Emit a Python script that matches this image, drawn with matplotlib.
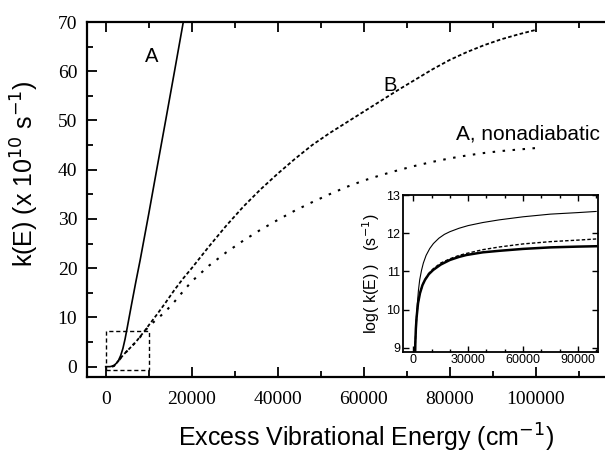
import matplotlib
matplotlib.use("Agg")
import matplotlib.pyplot as plt
from matplotlib.ticker import MultipleLocator
from matplotlib.patches import Rectangle

# ---- main panel data (k in units of 1e10 s^-1) ----
A_E = [0, 1000, 1500, 2000, 2500, 3000, 3500, 4000, 4500, 5000, 6000, 7000, 8000, 9000,
       10000, 12000, 14000, 16000, 18000, 19000]
A_k = [0, 0, 0.1, 0.3, 0.7, 1.3, 2.3, 3.7, 5.6, 7.9, 12.6, 17.2, 21.6, 26.3,
       31.0, 40.7, 50.3, 60.0, 69.8, 74.5]

B_E = [1500, 2000, 3000, 4000, 5000, 6000, 7000, 8000, 9000, 10000, 12000, 14000,
       16000, 18000, 20000, 24000, 28000, 32000, 36000, 40000, 44000, 48000,
       52000, 56000, 60000, 64000, 68000, 72000, 76000, 80000, 84000, 88000,
       92000, 96000, 100000]
B_k = [0, 0.2, 1.2, 2.3, 3.2, 4.1, 5.0, 6.1, 7.2, 8.4, 10.7, 13.1,
       15.6, 17.9, 20.0, 24.4, 28.6, 32.5, 36.0, 39.2, 42.2, 45.0,
       47.4, 49.6, 51.8, 54.0, 56.2, 58.3, 60.4, 62.3, 63.9, 65.3,
       66.5, 67.5, 68.4]

N_E = [1500, 2000, 3000, 4000, 5000, 6000, 7000, 8000, 9000, 10000, 12000, 14000,
       16000, 18000, 20000, 24000, 28000, 32000, 36000, 40000, 44000, 48000,
       52000, 56000, 60000, 64000, 68000, 72000, 76000, 80000, 84000, 88000,
       92000, 96000, 100000]
N_k = [0, 0.2, 1.2, 2.3, 3.2, 4.1, 5.0, 6.0, 7.1, 8.2, 9.7, 11.3,
       13.2, 15.3, 17.3, 20.5, 23.2, 25.6, 27.8, 29.8, 31.7, 33.4,
       35.0, 36.5, 37.8, 38.9, 39.9, 40.8, 41.6, 42.3, 42.9, 43.4,
       43.8, 44.1, 44.4]

# ---- inset data: log10(k / s^-1) ----
iA_E = [800, 1000, 1300, 1700, 2200, 2800, 3500, 4500, 5500, 7000, 9000, 11000,
        14000, 17000, 20000, 25000, 30000, 38000, 47000, 60000, 75000, 90000, 100000]
iA_y = [8.5, 9.0, 9.45, 9.8, 10.15, 10.5, 10.78, 11.03, 11.22, 11.42, 11.6, 11.73,
        11.87, 11.97, 12.04, 12.13, 12.2, 12.28, 12.35, 12.43, 12.5, 12.54, 12.57]

iN_E = [900, 1100, 1400, 1850, 2600, 3650, 5000, 6400, 8500, 10900, 15000, 20000,
        25000, 29000, 38000, 47000, 60000, 75000, 90000, 100000]
iN_y = [8.5, 9.1, 9.5, 9.82, 10.17, 10.43, 10.64, 10.78, 10.93, 11.04, 11.18, 11.30,
        11.38, 11.43, 11.50, 11.54, 11.59, 11.63, 11.65, 11.66]

iB_E = [900, 1100, 1400, 1850, 2600, 3650, 5000, 6400, 8500, 10900, 15000, 20000,
        25000, 29000, 38000, 47000, 60000, 75000, 90000, 100000]
iB_y = [8.5, 9.1, 9.5, 9.82, 10.17, 10.43, 10.64, 10.79, 10.95, 11.07, 11.22, 11.33,
        11.42, 11.47, 11.57, 11.64, 11.72, 11.78, 11.82, 11.85]

serif = "Liberation Serif"
sans = "Liberation Sans"

fig = plt.figure(figsize=(6.05, 4.53), dpi=100)
ax = fig.add_axes([0.1438, 0.1678, 0.8562, 0.7836])

ax.plot(A_E, A_k, color="black", lw=1.2)
ax.plot(B_E, B_k, color="black", lw=1.3, linestyle=(0, (2.0, 1.3)))
ax.plot(N_E, N_k, color="black", lw=1.5, linestyle=(0, (1.2, 3.6)))
ax.add_patch(Rectangle((0, -0.7), 10000, 7.9, fill=False, edgecolor="black",
                       lw=1.0, linestyle=(0, (3, 2))))

ax.set_xlim(-4350, 116100)
ax.set_ylim(-2.1, 70)
ax.xaxis.set_major_locator(MultipleLocator(20000))
ax.xaxis.set_minor_locator(MultipleLocator(10000))
ax.yaxis.set_major_locator(MultipleLocator(10))
ax.yaxis.set_minor_locator(MultipleLocator(5))
ax.tick_params(which="both", direction="in", top=True, right=False, width=1.3)
ax.tick_params(which="major", length=7)
ax.tick_params(which="minor", length=4)
ax.tick_params(axis="both", labelsize=14)
ax.tick_params(axis="x", pad=10)
ax.tick_params(axis="y", pad=7)
for lab in ax.get_xticklabels() + ax.get_yticklabels():
    lab.set_family(serif)
for s in ["left", "bottom", "top"]:
    ax.spines[s].set_linewidth(1.6)
ax.spines["right"].set_visible(False)

ax.set_xlabel("Excess Vibrational Energy (cm$^{-1}$)", family=sans, fontsize=18,
              va="baseline")
ax.xaxis.set_label_coords(0.539, -0.195)
ax.set_ylabel("k(E) (x 10$^{10}$ s$^{-1}$)", family=sans, fontsize=18)
ax.yaxis.set_label_coords(-0.088, 0.572)

ax.text(10770, 63, "A", family=sans, fontsize=14.5, ha="center", va="center")
ax.text(66100, 57.1, "B", family=sans, fontsize=14.5, ha="center", va="center")
ax.text(81500, 47.3, "A, nonadiabatic", family=sans, fontsize=15, ha="left", va="center")

# ---- inset ----
ins = fig.add_axes([0.6656, 0.2236, 0.3228, 0.3459])
ins.plot(iA_E, iA_y, color="black", lw=0.8)
ins.plot(iB_E, iB_y, color="black", lw=1.0, linestyle=(0, (2.5, 1.5)))
ins.plot(iN_E, iN_y, color="black", lw=1.8)
ins.set_xlim(-5800, 101000)
ins.set_ylim(8.9, 13)
ins.xaxis.set_major_locator(MultipleLocator(30000))
ins.xaxis.set_minor_locator(MultipleLocator(10000))
ins.yaxis.set_major_locator(MultipleLocator(1))
ins.tick_params(which="both", direction="in", top=True, right=True, width=1.0)
ins.tick_params(which="major", length=4)
ins.tick_params(which="minor", length=2.5)
ins.tick_params(axis="both", labelsize=9, pad=2)
for lab in ins.get_xticklabels() + ins.get_yticklabels():
    lab.set_family(sans)
for s in ins.spines.values():
    s.set_linewidth(1.3)
ins.set_ylabel("log( k(E) )   (s$^{-1}$)", family=sans, fontsize=11.5, labelpad=3)

fig.savefig("out.png", dpi=100)
